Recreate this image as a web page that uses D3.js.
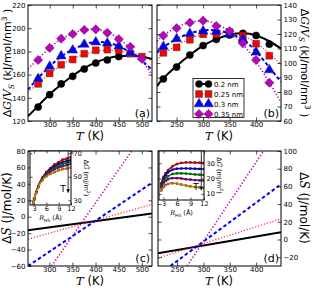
<!DOCTYPE html>
<html><head><meta charset="utf-8">
<script src="https://cdn.jsdelivr.net/npm/d3@7"></script>
<style>body{margin:0;background:#fff}svg{display:block}text{font-family:"DejaVu Sans",sans-serif}</style>
</head><body>
<script>
// ---------------- DATA ----------------
const seriesNames = ["0.2 nm","0.25 nm","0.3 nm","0.35 nm"];
const xTicksAC = [300,350,400,450,500];
const xTicksBD = [250,300,350,400];
const yTicksA = [120,140,160,180,200,220];
const yTicksB = [60,70,80,90,100,110,120,130,140];
const yTicksC = [-60,-40,-20,0,20,40,60,80];
const yTicksD = [-20,0,20,40,60,80,100];
const insetXTicks = [3,6,9,12];
const insetYTicksC = [30,50,70];
const insetYTicksD = [10,20,30];

// panel (a) markers
const tA = [275,300,325,350,375,400,425,450,475,500];
const a02 = [132,142.7,152,158.5,164.8,170,172.6,175.5,null,null];
const a025 = [152,161,168.5,173,178,181,181.5,181,178,175.5];
const a03 = [156.5,167,176,181,186,188,187,184.5,179,null];
const a035 = [172.6,183,191,195,198.5,199,196,190.5,184,173.5];
// panel (a) fit curves
const tAfit = [253,275,300,325,350,375,400,425,450,475,500,522];
const a02fit = [124,133,143,151.5,159,165.5,170.5,174,175.8,176.2,175.5,173.5];
const a025fit = [145,152.5,161,168,173.5,177.5,180,181,180.5,178.5,175.5,172];
const a03fit = [147,157,167,175.5,181.5,186,188,187.5,184.5,179,172,164];
const a035fit = [165,173.5,183,190.5,195.5,198.5,199,196.5,191,182.5,172,160];

// panel (b) markers
const tB = [225,250,275,300,325,350,375,400,425];
const b02 = [89,97.2,105.5,112,116.3,119.3,120.5,119,113];
const b025 = [107,110.8,116,119.8,120,121.4,118.9,113.3,105];
const b03 = [111.3,116.6,120.2,122,121.6,119.8,116.3,107.4,95.2];
const b035 = [118.9,124,127.8,129.2,125.5,122,113.6,102,86.4];
// panel (b) fit curves
const tBfit = [213,225,250,275,300,325,350,375,400,425,447];
const b02fit = [84,89.5,98,105.5,112,116.5,119.5,120.5,119,115,110];
const b025fit = [102,106,112,116.5,119.5,120.5,120.5,118.5,114,106.5,99];
const b03fit = [107,111,116.5,120.5,122.5,122.5,120.5,116,108,97,87];
const b035fit = [115,119,124.5,128,129,127,121.5,113,101,86.5,73];

// panel (c) entropy lines: [T, dS] end points
const c02 = [[254,-16.5],[522,4]];
const c025 = [[254,-27.4],[522,15]];
const c03 = [[254,-60],[522,41.3]];
const c035 = [[305,-60],[478,80]];
// panel (d)
const d02 = [[214,-15.5],[447,8.2]];
const d025 = [[214,-21],[447,23.3]];
const d03 = [[237.4,-30],[447,62.4]];
const d035 = [[269,-30],[414,100]];

// insets: R_HS and dG~ for five temperatures (low T -> high T)
const rInset = [2.5,3,3.5,4,5,6,7,8,9,10,11,12];
const insC = [
  [24,31,37,42,49,54,57.5,60.5,62.5,64.5,65.5,67],
  [24,31,37,42,49,53.5,56.5,59,61,62.5,63.5,64.5],
  [24,31,37,42,48.5,53,55.5,57.5,59.5,61,62,63],
  [24,31,37,41.5,48,52,54.5,56.5,58,59,60,61],
  [24,31,36.5,41,47,50.5,52.5,54,55.5,56.5,57,58]
];
const insD = [
  [17,21,23.5,25.5,28,29.5,30.2,30.5,30.5,30.4,30.3,30.2],
  [16,20,22.3,24,25.8,26.4,26.6,26.6,26.5,26.4,26.3,26.2],
  [15,18.5,20.3,21.5,23,23.4,23.4,23.2,23,22.7,22.5,22.3],
  [14,17,18.5,19.5,20.3,20.3,20,19.6,19.3,19,18.8,18.6],
  [12,14.5,15.8,16.5,17,16.6,16,15.4,14.9,14.5,14.2,13.9]
];

// ---------------- STYLE ----------------
const colors = ["#000000","#ff0000","#0000ff","#c000c0"];
const insetColors = ["#d00000","#0000d0","#008000","#800080","#d08800"];

const W=315,H=288;
const svg = d3.select("body").append("svg").attr("width",W).attr("height",H);
svg.append("rect").attr("width",W).attr("height",H).attr("fill","#fff");
const defs = svg.append("defs");

function panel(id, box, xd, yd, xt, yt, side){
  const x = d3.scaleLinear().domain(xd).range([box.x0,box.x1]);
  const y = d3.scaleLinear().domain(yd).range([box.y1,box.y0]);
  defs.append("clipPath").attr("id","clip"+id).append("rect")
    .attr("x",box.x0).attr("y",box.y0).attr("width",box.x1-box.x0).attr("height",box.y1-box.y0);
  const g = svg.append("g");
  const plot = g.append("g").attr("clip-path",`url(#clip${id})`);
  const axes = g.append("g");
  const tl = box.tick||3.5, fs = box.fs||7;
  axes.append("g").attr("transform",`translate(0,${box.y1})`)
    .call(d3.axisBottom(x).tickValues(xt).tickSize(-tl).tickPadding(1.5).tickFormat(d3.format("d")));
  axes.append("g").attr("transform",`translate(0,${box.y0})`)
    .call(d3.axisTop(x).tickValues(xt).tickSize(-tl).tickFormat(""));
  const ly = axes.append("g").attr("transform",`translate(${box.x0},0)`)
    .call(d3.axisLeft(y).tickValues(yt).tickSize(-tl).tickPadding(side==="left"?2.5:0).tickFormat(side==="left"?d3.format("d"):""));
  axes.append("g").attr("transform",`translate(${box.x1},0)`)
    .call(d3.axisRight(y).tickValues(yt).tickSize(-tl).tickPadding(side==="right"?2.5:0).tickFormat(side==="right"?(d=>d<0?"\u2212"+(-d):d):""));
  if(side==="left") ly.selectAll("text").text(d=>d<0?"\u2212"+(-d):d);
  axes.selectAll(".domain").remove();
  axes.selectAll("line").attr("stroke","#000").attr("stroke-width",0.7);
  axes.selectAll("text").attr("font-size",fs).attr("fill","#000").attr("font-family","DejaVu Sans");
  g.append("rect").attr("x",box.x0).attr("y",box.y0).attr("width",box.x1-box.x0).attr("height",box.y1-box.y0)
    .attr("fill","none").attr("stroke","#000").attr("stroke-width",1);
  return {x,y,plot,g};
}

const lineStyles = [
  {w:2, dash:null, op:1},
  {w:1.3, dash:"1.2,1.8", op:0.8},
  {w:2, dash:"3.5,2.5", op:1},
  {w:1.6, dash:"1.3,2", op:1}
];

function drawFit(p, xs, ys, i){
  const pts = xs.map((t,k)=>[t,ys[k]]);
  p.plot.append("path").datum(pts)
    .attr("d", d3.line().x(d=>p.x(d[0])).y(d=>p.y(d[1])).curve(d3.curveNatural))
    .attr("fill","none").attr("stroke",colors[i]).attr("stroke-width",lineStyles[i].w)
    .attr("stroke-dasharray",lineStyles[i].dash).attr("stroke-opacity",lineStyles[i].op);
}
function drawStraight(p, pts, i){
  p.plot.append("path").datum(pts)
    .attr("d", d3.line().x(d=>p.x(d[0])).y(d=>p.y(d[1])))
    .attr("fill","none").attr("stroke",colors[i]).attr("stroke-width",lineStyles[i].w)
    .attr("stroke-dasharray",lineStyles[i].dash).attr("stroke-opacity",lineStyles[i].op);
}
const symTypes = [d3.symbolCircle, d3.symbolSquare, d3.symbolTriangle, d3.symbolDiamond];
const symSizes = [40, 46, 42, 46];
function symPath(i){
  if(i===3){ const s=4.6; return `M0,${-s}L${s},0L0,${s}L${-s},0Z`; }
  return d3.symbol().type(symTypes[i]).size(symSizes[i])();
}
function drawMarkers(g, xs, ys, i, xsc, ysc){
  xs.forEach((t,k)=>{
    if(ys[k]==null) return;
    g.append("path").attr("d",symPath(i)).attr("transform",`translate(${xsc(t)},${ysc(ys[k])})`)
      .attr("fill",colors[i]).attr("stroke", i===0?"#000":"#333").attr("stroke-width",0.5);
  });
}

// ----- Panel (a) -----
const pA = panel("A",{x0:28,x1:152,y0:5,y1:121},[253,522],[120,220],xTicksAC,yTicksA,"left");
[a02fit,a025fit,a03fit,a035fit].forEach((ys,i)=>drawFit(pA,tAfit,ys,i));
const mA = pA.g.append("g");
[a02,a025,a03,a035].forEach((ys,i)=>drawMarkers(mA,tA,ys,i,pA.x,pA.y));

// ----- Panel (b) -----
const pB = panel("B",{x0:157,x1:281,y0:5,y1:121},[213,447],[60,140],xTicksBD,yTicksB,"right");
[b02fit,b025fit,b03fit,b035fit].forEach((ys,i)=>drawFit(pB,tBfit,ys,i));
const mB = pB.g.append("g");
[b02,b025,b03,b035].forEach((ys,i)=>drawMarkers(mB,tB,ys,i,pB.x,pB.y));

// legend
const lg = pB.g.append("g");
lg.append("rect").attr("x",193).attr("y",78.5).attr("width",51).attr("height",39)
  .attr("fill","#fff").attr("stroke","#000").attr("stroke-width",0.8);
seriesNames.forEach((n,i)=>{
  const yy = 84+i*10;
  lg.append("line").attr("x1",199).attr("x2",208.5).attr("y1",yy).attr("y2",yy)
    .attr("stroke",colors[i]).attr("stroke-width",lineStyles[i].w).attr("stroke-dasharray",lineStyles[i].dash);
  [199,208.5].forEach(xx=>lg.append("path").attr("d",symPath(i)).attr("transform",`translate(${xx},${yy})`)
    .attr("fill",colors[i]).attr("stroke","#333").attr("stroke-width",0.5));
  lg.append("text").attr("x",214).attr("y",yy+2.5).attr("font-size",7).text(n);
});

// ----- Panel (c) -----
const pC = panel("C",{x0:28,x1:152,y0:151,y1:266},[254,522],[-60,80],xTicksAC,yTicksC,"left");
[c02,c025,c03,c035].forEach((pts,i)=>drawStraight(pC,pts,i));
// ----- Panel (d) -----
const pD = panel("D",{x0:158,x1:281,y0:151,y1:266},[214,447],[-30,100],xTicksBD,yTicksD,"right");
[d02,d025,d03,d035].forEach((pts,i)=>drawStraight(pD,pts,i));

// ----- Insets -----
function inset(id, box, yd, yt, data, arrowR, arrowTo){
  svg.append("rect").attr("x",box.x0).attr("y",box.y0).attr("width",box.x1-box.x0).attr("height",box.y1-box.y0).attr("fill","#fff");
  const p = panel(id,Object.assign({tick:2.5,fs:6.5},box),[2,12],yd,insetXTicks,yt,"right");
  data.forEach((ys,j)=>{
    const pts = rInset.map((r,k)=>[r,ys[k]]);
    p.plot.append("path").datum(pts)
      .attr("d", d3.line().x(d=>p.x(d[0])).y(d=>p.y(d[1])).curve(d3.curveMonotoneX))
      .attr("fill","none").attr("stroke",insetColors[j]).attr("stroke-width",1.6);
    pts.forEach(d=>p.plot.append("rect").attr("x",p.x(d[0])-1).attr("y",p.y(d[1])-1).attr("width",2).attr("height",2)
      .attr("fill",insetColors[j]).attr("stroke","#222").attr("stroke-width",0.3));
  });
  const ax = p.x(arrowR);
  p.g.append("line").attr("x1",ax).attr("x2",ax).attr("y1",box.y0).attr("y2",p.y(arrowTo)-3)
    .attr("stroke","#000").attr("stroke-width",0.8);
  p.g.append("path").attr("d",`M${ax-1.8},${p.y(arrowTo)-4}L${ax+1.8},${p.y(arrowTo)-4}L${ax},${p.y(arrowTo)}Z`).attr("fill","#000");
  p.g.append("text").attr("x",ax-2.5).attr("y",p.y(arrowTo)-1).attr("text-anchor","end").attr("font-size",9).text("T");
  const xl = p.g.append("text").attr("x",(box.x0+box.x1)/2).attr("y",box.y1+15).attr("text-anchor","middle").attr("font-size",6.5);
  xl.append("tspan").attr("font-family","DejaVu Serif").attr("font-style","italic").text("R");
  xl.append("tspan").attr("font-size",4.5).attr("dy",1.5).text("HS");
  xl.append("tspan").attr("dy",-1.5).text(" (Å)");
  const yl = p.g.append("text").attr("transform",`translate(${box.x1+13},${(box.y0+box.y1)/2}) rotate(90)`)
    .attr("text-anchor","middle").attr("font-size",6.5);
  yl.append("tspan").text("Δ");
  yl.append("tspan").attr("font-family","DejaVu Serif").attr("font-style","italic").text("G\u0303");
  yl.append("tspan").text(" (mJ/m");
  yl.append("tspan").attr("font-size",4.5).attr("dy",-2.5).text("2");
  yl.append("tspan").attr("dy",2.5).text(")");
  return p;
}
inset("CI",{x0:30,x1:71,y0:151,y1:205},[26,72],insetYTicksC,insC,11.3,36);
inset("DI",{x0:159,x1:204,y0:151,y1:200},[6,38],insetYTicksD,insD,11.4,12);

// ----- Axis labels -----
function tLabel(cx, cy){
  const t = svg.append("text").attr("x",cx).attr("y",cy).attr("text-anchor","middle").attr("font-size",11.5);
  t.append("tspan").attr("font-family","DejaVu Serif").attr("font-style","italic").text("T");
  t.append("tspan").text(" (K)");
}
tLabel(90,140); tLabel(219,140); tLabel(90,285); tLabel(219,285);

function gLabel(x, y, rot){
  const t = svg.append("text").attr("transform",`translate(${x},${y}) rotate(${rot})`).attr("text-anchor","middle").attr("font-size",11);
  t.append("tspan").text("Δ");
  t.append("tspan").attr("font-family","DejaVu Serif").attr("font-style","italic").text("G");
  t.append("tspan").text("/");
  t.append("tspan").attr("font-family","DejaVu Serif").attr("font-style","italic").text("V");
  t.append("tspan").attr("font-family","DejaVu Serif").attr("font-style","italic").attr("font-size",7.5).attr("dy",2.5).text("S");
  t.append("tspan").attr("dy",-2.5).text(" (kJ/mol/nm");
  t.append("tspan").attr("font-size",7.5).attr("dy",-4).text("3");
  t.append("tspan").attr("dy",4).text(" )");
}
gLabel(11,63,-90); gLabel(301,63,90);
function sLabel(x,y,rot){
  const t = svg.append("text").attr("transform",`translate(${x},${y}) rotate(${rot})`).attr("text-anchor","middle").attr("font-size",12);
  t.append("tspan").text("Δ");
  t.append("tspan").attr("font-family","DejaVu Serif").attr("font-style","italic").text("S");
  t.append("tspan").text(" (J/mol/K)");
}
sLabel(11,208,-90); sLabel(300,208,90);

[["(a)",150,117],["(b)",279,117],["(c)",150,262],["(d)",279,262]].forEach(([s,x,y])=>
  svg.append("text").attr("x",x).attr("y",y).attr("text-anchor","end").attr("font-size",11).text(s));
</script>
</body></html>
